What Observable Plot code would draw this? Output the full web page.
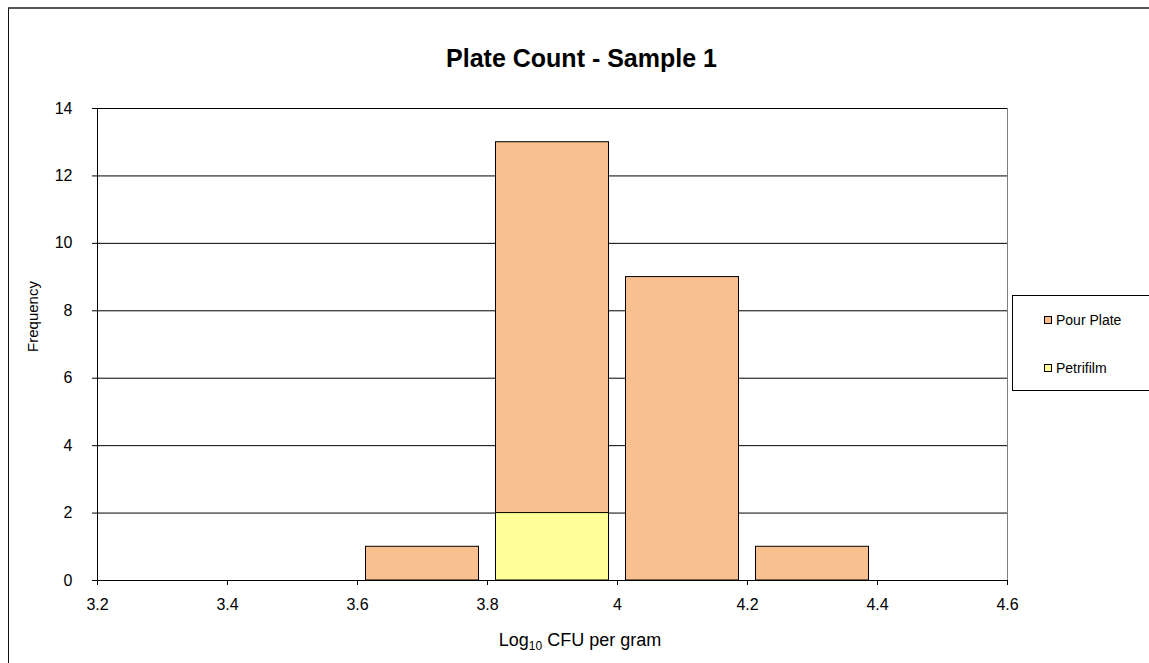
<!DOCTYPE html>
<html>
<head>
<meta charset="utf-8">
<script src="https://cdn.jsdelivr.net/npm/d3@7"></script>
<script src="https://cdn.jsdelivr.net/npm/@observablehq/plot@0.6"></script>
<style>
  body { margin: 0; background: #fff; font-family: Arial, "Liberation Sans", sans-serif; }
  #chart { position: relative; width: 1149px; height: 663px; overflow: hidden; }
  #chart svg { position: absolute; left: 0; top: 0; }
  .outer { position: absolute; left: 8px; top: 7px; width: 1300px; height: 800px;
           border-left: 1px solid #111; border-top: 2px solid #555; box-sizing: border-box; }
  .xlabel { position: absolute; left: 380px; width: 400px; top: 630px; text-align: center;
            font-size: 18px; color: #000; white-space: nowrap; }
  .xlabel sub { font-size: 12px; vertical-align: -4px; line-height: 0; }
  .legend { position: absolute; left: 1012px; top: 295px; width: 200px; height: 96px;
            border: 1px solid #000; box-sizing: border-box; font-size: 14px; }
  .legend .item { position: absolute; left: 31px; display: flex; align-items: center; white-space: nowrap; }
  .legend .sw { width: 6px; height: 6px; border: 1px solid #000; margin-right: 4px; }
</style>
</head>
<body>
<div id="chart"></div>
<script>
// Histogram bins (lower edge) and frequencies for each plating method
const binStarts = [3.6, 3.8, 4.0, 4.2];
const binWidth = 0.2;
const pourPlate = [1, 13, 9, 1];
const petrifilm = [0, 2, 0, 0];
const seriesNames = ["Pour Plate", "Petrifilm"];
const seriesColors = ["#F9C08F", "#FFFF99"];
const xTicks = [3.2, 3.4, 3.6, 3.8, 4.0, 4.2, 4.4, 4.6];
const yTicks = [0, 2, 4, 6, 8, 10, 12, 14];
const titleText = "Plate Count - Sample 1";
const yLabel = "Frequency";

const rows = (values, series) => binStarts.map((b, i) => ({
  x1: b, x2: +(b + binWidth).toFixed(1), y: values[i], series
}));
const pourRows = rows(pourPlate, seriesNames[0]);
const petriRows = rows(petrifilm, seriesNames[1]).filter(d => d.y > 0);

const chart = Plot.plot({
  width: 1149,
  height: 663,
  marginLeft: 97,
  marginRight: 142,
  marginTop: 108,
  marginBottom: 83,
  style: { fontFamily: "Arial, 'Liberation Sans', sans-serif", fontSize: "16px", color: "#000", background: "transparent" },
  x: { domain: [3.2, 4.6] },
  y: { domain: [0, 14] },
  color: { domain: seriesNames, range: seriesColors },
  marks: [
    Plot.ruleY(yTicks.filter(d => d > 0), { stroke: "#000", strokeWidth: 1 }),
    Plot.ruleX([4.6], { stroke: "#808080", strokeWidth: 1 }),
    Plot.rectY(pourRows, { x1: "x1", x2: "x2", y1: 0, y2: "y", fill: "series", stroke: "#000", strokeWidth: 1, insetLeft: 8.5, insetRight: 8.5 }),
    Plot.rectY(petriRows, { x1: "x1", x2: "x2", y1: 0, y2: "y", fill: "series", stroke: "#000", strokeWidth: 1, insetLeft: 8.5, insetRight: 8.5 }),
    Plot.ruleX([3.2], { stroke: "#000", strokeWidth: 1 }),
    Plot.ruleY([0], { stroke: "#000", strokeWidth: 1 }),
    Plot.axisX({ ticks: xTicks, tickSize: 5, tickPadding: 13, tickFormat: d => String(+d.toFixed(1)), label: null, fontSize: 16 }),
    Plot.axisY({ ticks: yTicks, tickSize: 5, tickPadding: 20, tickFormat: d => String(d), label: null, fontSize: 16 }),
    Plot.text([titleText], { frameAnchor: "top", lineAnchor: "middle", dx: 29, dy: -50, fontSize: 25, fontWeight: "bold", text: d => d }),
    Plot.text([yLabel], { frameAnchor: "left", textAnchor: "middle", lineAnchor: "middle", dx: -64, dy: -28, rotate: -90, fontSize: 15, text: d => d })
  ]
});

const host = document.getElementById("chart");
const outer = document.createElement("div");
outer.className = "outer";
host.appendChild(outer);
host.appendChild(chart);

const xl = document.createElement("div");
xl.className = "xlabel";
xl.innerHTML = "Log<sub>10</sub> CFU per gram";
host.appendChild(xl);

const legend = document.createElement("div");
legend.className = "legend";
seriesNames.forEach((name, i) => {
  const item = document.createElement("div");
  item.className = "item";
  item.style.top = (i === 0 ? 16 : 64) + "px";
  const sw = document.createElement("span");
  sw.className = "sw";
  sw.style.background = seriesColors[i];
  const label = document.createElement("span");
  label.textContent = name;
  item.appendChild(sw);
  item.appendChild(label);
  legend.appendChild(item);
});
host.appendChild(legend);
</script>
</body>
</html>
